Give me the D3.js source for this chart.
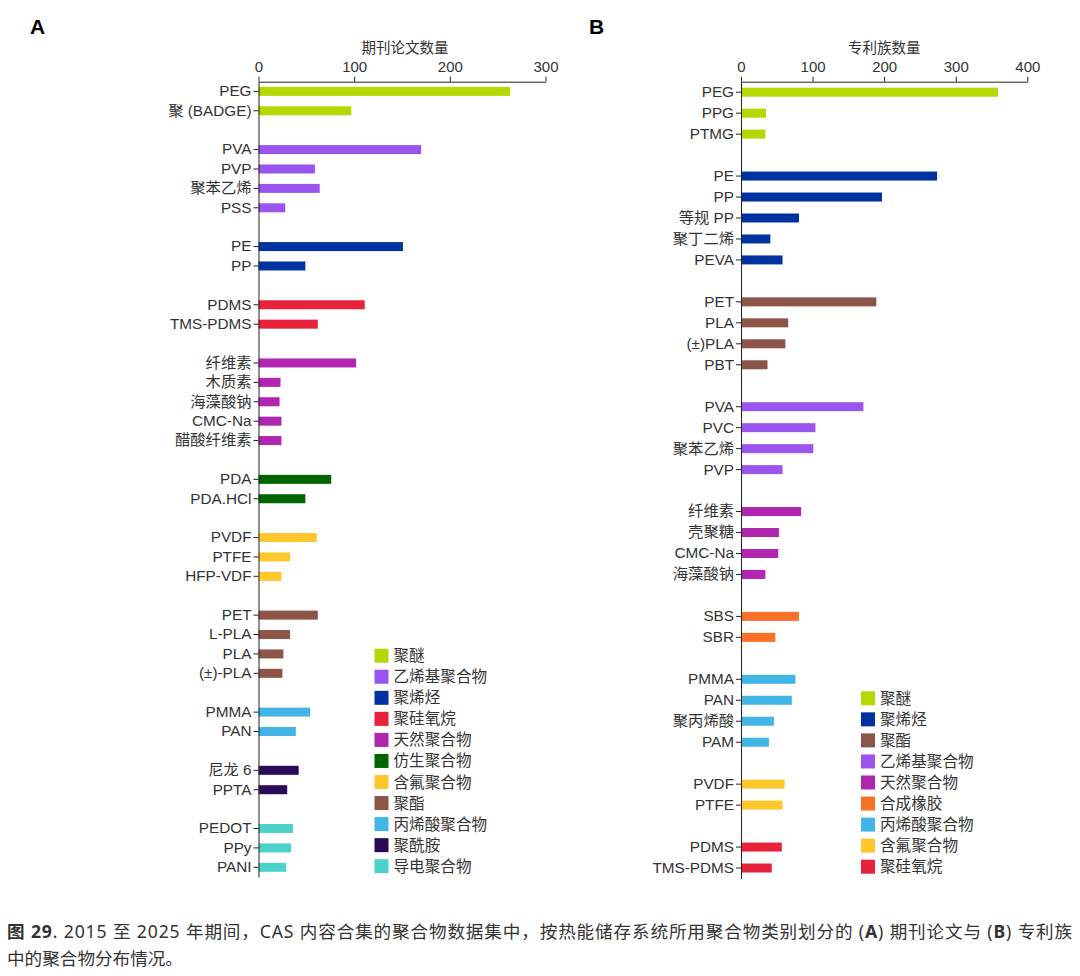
<!DOCTYPE html>
<html>
<head>
<meta charset="utf-8">
<script src="https://cdn.jsdelivr.net/npm/d3@7"></script>
<style>
  body { margin: 0; background: #fff; }
  svg text { font-family: "Liberation Sans", Arial, "Noto Sans CJK SC", sans-serif; fill: #333; }
  .caption { font-family: "Noto Sans", "Noto Sans CJK SC", sans-serif; font-size: 17.6px; fill: #333; }
</style>
</head>
<body>
<svg id="fig" width="1080" height="976"></svg>
<script>
// category colours
const catColors = {
  '聚醚': '#b5d800',
  '乙烯基聚合物': '#9b55ef',
  '聚烯烃': '#0033a0',
  '聚硅氧烷': '#e8223a',
  '天然聚合物': '#b026b0',
  '仿生聚合物': '#006400',
  '含氟聚合物': '#ffc72c',
  '聚酯': '#8c5548',
  '丙烯酸聚合物': '#41b6e6',
  '聚酰胺': '#2c0a5a',
  '导电聚合物': '#4cd2c8',
  '合成橡胶': '#f87127'
};

// panel A - journal articles
const journalLabels = ['PEG', '聚 (BADGE)', 'PVA', 'PVP', '聚苯乙烯', 'PSS', 'PE', 'PP', 'PDMS', 'TMS-PDMS',
  '纤维素', '木质素', '海藻酸钠', 'CMC-Na', '醋酸纤维素', 'PDA', 'PDA.HCl', 'PVDF', 'PTFE', 'HFP-VDF',
  'PET', 'L-PLA', 'PLA', '(±)-PLA', 'PMMA', 'PAN', '尼龙 6', 'PPTA', 'PEDOT', 'PPy', 'PANI'];
const journalValues = [263, 97, 170, 59, 64, 28, 151, 49, 111, 62,
  102, 23, 22, 24, 24, 76, 49, 61, 33, 24,
  62, 33, 26, 25, 54, 39, 42, 30, 36, 34, 29];
const journalCats = ['聚醚', '聚醚', '乙烯基聚合物', '乙烯基聚合物', '乙烯基聚合物', '乙烯基聚合物', '聚烯烃', '聚烯烃',
  '聚硅氧烷', '聚硅氧烷', '天然聚合物', '天然聚合物', '天然聚合物', '天然聚合物', '天然聚合物',
  '仿生聚合物', '仿生聚合物', '含氟聚合物', '含氟聚合物', '含氟聚合物', '聚酯', '聚酯', '聚酯', '聚酯',
  '丙烯酸聚合物', '丙烯酸聚合物', '聚酰胺', '聚酰胺', '导电聚合物', '导电聚合物', '导电聚合物'];
const journalTicks = [0, 100, 200, 300];
const journalLegend = ['聚醚', '乙烯基聚合物', '聚烯烃', '聚硅氧烷', '天然聚合物', '仿生聚合物', '含氟聚合物',
  '聚酯', '丙烯酸聚合物', '聚酰胺', '导电聚合物'];

// panel B - patent families
const patentLabels = ['PEG', 'PPG', 'PTMG', 'PE', 'PP', '等规 PP', '聚丁二烯', 'PEVA', 'PET', 'PLA', '(±)PLA', 'PBT',
  'PVA', 'PVC', '聚苯乙烯', 'PVP', '纤维素', '壳聚糖', 'CMC-Na', '海藻酸钠', 'SBS', 'SBR',
  'PMMA', 'PAN', '聚丙烯酸', 'PAM', 'PVDF', 'PTFE', 'PDMS', 'TMS-PDMS'];
const patentValues = [359, 35, 34, 274, 197, 81, 41, 58, 189, 66, 62, 37,
  171, 104, 101, 58, 84, 53, 52, 34, 81, 48,
  76, 71, 46, 39, 61, 58, 57, 43];
const patentCats = ['聚醚', '聚醚', '聚醚', '聚烯烃', '聚烯烃', '聚烯烃', '聚烯烃', '聚烯烃', '聚酯', '聚酯', '聚酯', '聚酯',
  '乙烯基聚合物', '乙烯基聚合物', '乙烯基聚合物', '乙烯基聚合物', '天然聚合物', '天然聚合物', '天然聚合物', '天然聚合物',
  '合成橡胶', '合成橡胶', '丙烯酸聚合物', '丙烯酸聚合物', '丙烯酸聚合物', '丙烯酸聚合物',
  '含氟聚合物', '含氟聚合物', '聚硅氧烷', '聚硅氧烷'];
const patentTicks = [0, 100, 200, 300, 400];
const patentLegend = ['聚醚', '聚烯烃', '聚酯', '乙烯基聚合物', '天然聚合物', '合成橡胶', '丙烯酸聚合物', '含氟聚合物', '聚硅氧烷'];

const svg = d3.select('#fig');

const drawPanel = function(opt) {
  // slots: one empty row between category groups
  let rows = [];
  opt.labels.forEach((lab, i) => {
    if (i > 0 && opt.cats[i] !== opt.cats[i - 1]) rows.push({ key: 'gap' + i, gap: true });
    rows.push({ key: 'r' + i, label: lab, value: opt.values[i], cat: opt.cats[i] });
  });

  const x = d3.scaleLinear().domain(opt.domain).range([opt.x0, opt.x1]);
  const y = d3.scaleBand().domain(rows.map(d => d.key))
    .range([opt.y0, opt.y1]).paddingInner(0.55).paddingOuter(0.275);

  const g = svg.append('g');

  g.append('text')
    .attr('x', opt.letterX).attr('y', 34)
    .style('font-size', '21px').style('font-weight', 'bold').style('fill', '#000')
    .text(opt.letter);

  g.append('text')
    .attr('x', (opt.x0 + opt.x1) / 2 + opt.titleShift).attr('y', 53)
    .attr('text-anchor', 'middle').style('font-size', '14.5px')
    .text(opt.title);

  const bars = rows.filter(d => !d.gap);
  g.selectAll('rect.bar').data(bars).join('rect')
    .attr('class', 'bar')
    .attr('x', x(0))
    .attr('y', d => y(d.key) + y.bandwidth() / 2 - 4.5)
    .attr('width', d => x(d.value) - x(0))
    .attr('height', 9)
    .attr('fill', d => catColors[d.cat]);

  const xAxis = g.append('g')
    .attr('transform', `translate(0,${opt.y0})`)
    .call(d3.axisTop(x).tickValues(opt.ticks).tickSize(5).tickSizeOuter(0));
  xAxis.selectAll('text').style('font-size', '15px').attr('dy', '-0.1em');

  const yAxis = g.append('g')
    .attr('transform', `translate(${opt.x0},0)`)
    .call(d3.axisLeft(y).tickValues(bars.map(d => d.key))
      .tickFormat(k => bars.find(b => b.key === k).label)
      .tickSize(5).tickSizeOuter(0).tickPadding(2));
  yAxis.selectAll('text').style('font-size', '15.3px');

  g.selectAll('.domain, .tick line').attr('stroke', '#222');

  // legend
  const lg = g.append('g');
  opt.legend.forEach((c, i) => {
    const ly = opt.legendY + i * 21.05;
    lg.append('rect').attr('x', opt.legendX).attr('y', ly - 7).attr('width', 14).attr('height', 14)
      .attr('fill', catColors[c]);
    lg.append('text').attr('x', opt.legendX + 19).attr('y', ly + 5.5)
      .style('font-size', '15.6px').text(c);
  });
};

drawPanel({
  letter: 'A', letterX: 30, title: '期刊论文数量', titleShift: 3,
  labels: journalLabels, values: journalValues, cats: journalCats,
  domain: [0, 300], ticks: journalTicks,
  x0: 258.5, x1: 545.5, y0: 81.7, y1: 877,
  legend: journalLegend, legendX: 374.5, legendY: 655.7
});

drawPanel({
  letter: 'B', letterX: 589, title: '专利族数量', titleShift: 0,
  labels: patentLabels, values: patentValues, cats: patentCats,
  domain: [0, 400], ticks: patentTicks,
  x0: 741, x1: 1027.3, y0: 81.7, y1: 878.5,
  legend: patentLegend, legendX: 861, legendY: 698.3
});

// caption
const cap = svg.append('text').attr('class', 'caption').attr('x', 7).attr('y', 938);
cap.append('tspan').style('font-weight', 'bold').text('图 29');
cap.append('tspan').text('. 2015 至 2025 年期间，CAS 内容合集的聚合物数据集中，按热能储存系统所用聚合物类别划分的 (');
cap.append('tspan').style('font-weight', 'bold').text('A');
cap.append('tspan').text(') 期刊论文与 (');
cap.append('tspan').style('font-weight', 'bold').text('B');
cap.append('tspan').text(') 专利族');
// stretch the first line to the full width as in the justified source
const capW = cap.node().getComputedTextLength();
const capN = cap.text().length;
cap.style('letter-spacing', ((1066 - capW) / capN) + 'px');
svg.append('text').attr('class', 'caption').attr('x', 7).attr('y', 965).text('中的聚合物分布情况。');
</script>
</body>
</html>
